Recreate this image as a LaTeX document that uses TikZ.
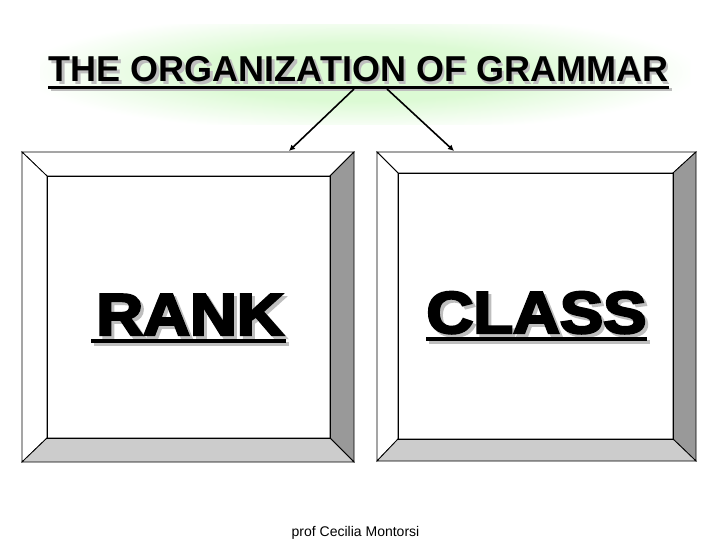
\documentclass[tikz,border=0pt]{standalone}
\usepackage{fontspec}
\usepackage{graphicx}
\setmainfont{Liberation Sans}
\newfontfamily\heavy[UprightFont={* Bold},FakeBold=4]{Liberation Sans}
\usetikzlibrary{arrows.meta}
\definecolor{glowgreen}{RGB}{220,250,212}
\definecolor{bevdark}{RGB}{153,153,153}
\definecolor{bevlight}{RGB}{204,204,204}
\definecolor{shadowgray}{RGB}{190,190,190}
\pgfdeclareradialshading{glow}{\pgfpoint{0bp}{0bp}}{color(0bp)=(glowgreen);color(12bp)=(glowgreen);color(25bp)=(white);color(50bp)=(white)}
\tikzset{
  bevel/.style={draw=black,line width=0.8pt},
  titletext/.style={font=\bfseries\fontsize{36}{40}\selectfont, inner sep=0pt, anchor=base},
  bigtext/.style={font=\heavy\fontsize{59}{62}\selectfont, inner sep=0pt, anchor=base},
  footertext/.style={font=\fontsize{14}{16}\selectfont, inner sep=0pt, anchor=base},
  uline/.style={line width=3pt},
  bigline/.style={line width=4pt},
  conn/.style={line width=1.6pt, -{Latex[length=6pt,width=6pt]}}
}
\newcommand{\widen}[1]{\scalebox{1.1}[1]{#1}}
\begin{document}
\begin{tikzpicture}[x=1pt,y=-1pt]
\useasboundingbox (0,0) rectangle (720,540);
\fill[white] (0,0) rectangle (720,540);
\begin{scope}
\clip (40,25) rectangle (690,125);
\shade[shading=glow] (360,72) ellipse [x radius=340, y radius=60];
\end{scope}
% title
\node[titletext, text=shadowgray] (titleshadow) at (361,84.5) {THE ORGANIZATION OF GRAMMAR};
\node[titletext] (title) at (358.5,82) {THE ORGANIZATION OF GRAMMAR};
\draw[uline, shadowgray] (51,90) -- (672,90);
\draw[uline] (48,87.5) -- (669,87.5);
% left bevel box
\filldraw[bevel,fill=white] (22,152) -- (354,152) -- (330,176) -- (47,176) -- cycle;
\filldraw[bevel,fill=white] (22,152) -- (47,176) -- (47,438) -- (22,462) -- cycle;
\filldraw[bevel,fill=bevdark] (354,152) -- (354,462) -- (330,438) -- (330,176) -- cycle;
\filldraw[bevel,fill=bevlight] (22,462) -- (47,438) -- (330,438) -- (354,462) -- cycle;
\draw[bevel] (47,176) rectangle (330,438);
% right bevel box
\filldraw[bevel,fill=white] (377,152) -- (696,152) -- (673,173) -- (398,173) -- cycle;
\filldraw[bevel,fill=white] (377,152) -- (398,173) -- (398,439) -- (377,461) -- cycle;
\filldraw[bevel,fill=bevdark] (696,152) -- (696,461) -- (673,439) -- (673,173) -- cycle;
\filldraw[bevel,fill=bevlight] (377,461) -- (398,439) -- (673,439) -- (696,461) -- cycle;
\draw[bevel] (398,173) rectangle (673,439);
% connectors
\coordinate (s1) at (354,89);
\coordinate (e1) at (289,151);
\coordinate (s2) at (387,89);
\coordinate (e2) at (454,151);
\draw[conn] (s1) -- (e1);
\draw[conn] (s2) -- (e2);
% RANK
\node[bigtext, text=shadowgray] (rankshadow) at (193,338) {\widen{RANK}};
\node[bigtext] (rank) at (190,335) {\widen{RANK}};
\draw[bigline, shadowgray] (94,344) -- (289,344);
\draw[bigline] (91,341) -- (286,341);
% CLASS
\node[bigtext, text=shadowgray] (classshadow) at (539.5,336) {\widen{CLASS}};
\node[bigtext] (class) at (536.5,333) {\widen{CLASS}};
\draw[bigline, shadowgray] (429,342) -- (650,342);
\draw[bigline] (426,339) -- (647,339);
% footer
\node[footertext] (footer) at (355.5,536) {prof Cecilia Montorsi};
\end{tikzpicture}
\end{document}
